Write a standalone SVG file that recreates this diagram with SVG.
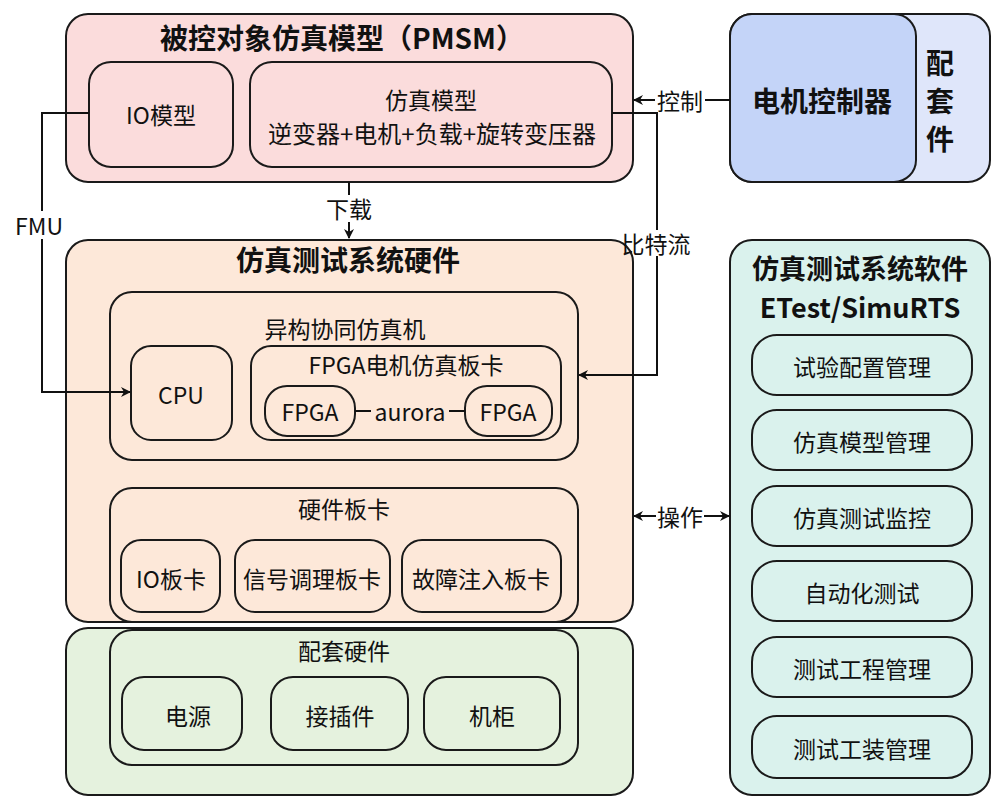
<svg xmlns="http://www.w3.org/2000/svg" width="1000" height="809" viewBox="0 0 1000 809">
<defs>
<marker id="ah" markerWidth="10" markerHeight="10" refX="9" refY="5" orient="auto" markerUnits="userSpaceOnUse">
<path d="M0,0 L10,5 L0,10 L3,5 Z" fill="#111"/>
</marker>
<style>
rect{stroke:#1a1a1a;stroke-width:2}
text{font-family:"Noto Sans CJK SC","Noto Sans",sans-serif;fill:#111;text-anchor:middle;dominant-baseline:central}
.t{font-size:28px;font-weight:bold}
.n{font-size:23px}
.c{fill:none;stroke:#111;stroke-width:2}
.pink{fill:#fbdcdc}
.peach{fill:#fde8d9}
.green{fill:#e5f2de}
.teal{fill:#daf2ed}
</style>
</defs>
<rect width="1000" height="809" fill="#fff" style="stroke:none"/>

<g id="pmsm">
<rect class="pink" x="66" y="14" width="567" height="168" rx="22"/>
<text class="t" x="342" y="37">被控对象仿真模型（PMSM）</text>
</g>
<g id="io-model">
<rect class="pink" x="89" y="62" width="144" height="105" rx="22"/>
<text class="n" x="161" y="114">IO模型</text>
</g>
<g id="sim-model">
<rect class="pink" x="250" y="62" width="362" height="105" rx="22"/>
<text class="n" x="431" y="99">仿真模型</text>
<text class="n" x="432" y="132" style="font-size:24px">逆变器+电机+负载+旋转变压器</text>
</g>

<g id="controller">
<rect fill="#dfe6fa" x="730" y="14" width="260" height="168" rx="22"/>
<rect fill="#c4d4f8" x="730" y="14" width="186" height="168" rx="22"/>
<text class="t" x="822" y="100">电机控制器</text>
<text class="t" x="940" y="62">配</text>
<text class="t" x="940" y="100">套</text>
<text class="t" x="940" y="138">件</text>
</g>

<g id="hardware">
<rect class="peach" x="66" y="240" width="567" height="382" rx="22"/>
<text class="t" x="348" y="259">仿真测试系统硬件</text>
</g>
<g id="hetero">
<rect class="peach" x="110" y="292" width="468" height="168" rx="22"/>
<text class="n" x="345" y="328">异构协同仿真机</text>
</g>
<g id="cpu">
<rect class="peach" x="131" y="346" width="101" height="94" rx="20"/>
<text class="n" x="181" y="394">CPU</text>
</g>
<g id="fpga-board">
<rect class="peach" x="251" y="346" width="310" height="94" rx="20"/>
<text class="n" x="406" y="364">FPGA电机仿真板卡</text>
</g>
<g id="fpga1">
<rect class="peach" x="265" y="386" width="90" height="50" rx="22"/>
<text class="n" x="310" y="411">FPGA</text>
</g>
<g id="fpga2">
<rect class="peach" x="465" y="386" width="87" height="50" rx="22"/>
<text class="n" x="508" y="411">FPGA</text>
</g>
<g id="hw-cards">
<rect class="peach" x="110" y="488" width="468" height="134" rx="22"/>
<text class="n" x="344" y="508">硬件板卡</text>
</g>
<g id="io-card">
<rect class="peach" x="121" y="540" width="99" height="72" rx="20"/>
<text class="n" x="171" y="578">IO板卡</text>
</g>
<g id="signal-card">
<rect class="peach" x="235" y="540" width="155" height="72" rx="20"/>
<text class="n" x="312" y="578">信号调理板卡</text>
</g>
<g id="fault-card">
<rect class="peach" x="402" y="540" width="159" height="72" rx="20"/>
<text class="n" x="481" y="578">故障注入板卡</text>
</g>

<g id="support-hw">
<rect class="green" x="66" y="628" width="567" height="167" rx="22"/>
<rect class="green" x="110" y="630" width="468" height="135" rx="22"/>
<text class="n" x="344" y="650">配套硬件</text>
</g>
<g id="power">
<rect class="green" x="122" y="677" width="120" height="73" rx="22"/>
<text class="n" x="188" y="715">电源</text>
</g>
<g id="connector">
<rect class="green" x="271" y="677" width="137" height="73" rx="22"/>
<text class="n" x="340" y="715">接插件</text>
</g>
<g id="cabinet">
<rect class="green" x="424" y="677" width="136" height="73" rx="22"/>
<text class="n" x="492" y="715">机柜</text>
</g>

<g id="software">
<rect class="teal" x="730" y="240" width="260" height="555" rx="22"/>
<text class="t" x="860" y="267" style="font-size:27px">仿真测试系统软件</text>
<text class="t" x="860" y="306" style="font-size:27px">ETest/SimuRTS</text>
</g>
<g id="sw1"><rect class="teal" x="752" y="335" width="220" height="60" rx="25"/><text class="n" x="862" y="366">试验配置管理</text></g>
<g id="sw2"><rect class="teal" x="752" y="410" width="220" height="60" rx="25"/><text class="n" x="862" y="441">仿真模型管理</text></g>
<g id="sw3"><rect class="teal" x="752" y="486" width="220" height="60" rx="25"/><text class="n" x="862" y="517">仿真测试监控</text></g>
<g id="sw4"><rect class="teal" x="752" y="561" width="220" height="60" rx="25"/><text class="n" x="862" y="592">自动化测试</text></g>
<g id="sw5"><rect class="teal" x="752" y="637" width="220" height="60" rx="25"/><text class="n" x="862" y="668">测试工程管理</text></g>
<g id="sw6"><rect class="teal" x="752" y="716" width="220" height="62" rx="25"/><text class="n" x="862" y="748">测试工装管理</text></g>

<g id="connectors">
<path class="c" d="M730,100 H705"/>
<path class="c" d="M655,100 H634" marker-end="url(#ah)"/>
<text class="n" x="680" y="100">控制</text>

<path class="c" d="M612,113 H657 V230"/>
<path class="c" d="M657,256 V375 H579" marker-end="url(#ah)"/>
<text class="n" x="656" y="243">比特流</text>

<path class="c" d="M349,182 V195"/>
<path class="c" d="M349,222 V238" marker-end="url(#ah)"/>
<text class="n" x="349" y="208">下载</text>

<path class="c" d="M89,113 H42 V211"/>
<path class="c" d="M42,239 V392 H130" marker-end="url(#ah)"/>
<text class="n" x="39" y="225">FMU</text>

<path class="c" d="M355,411 H371"/>
<path class="c" d="M449,411 H465"/>
<text class="n" x="410" y="411">aurora</text>

<path class="c" d="M656,516 H634" marker-end="url(#ah)"/>
<path class="c" d="M704,516 H729" marker-end="url(#ah)"/>
<text class="n" x="680" y="516">操作</text>
</g>
</svg>
